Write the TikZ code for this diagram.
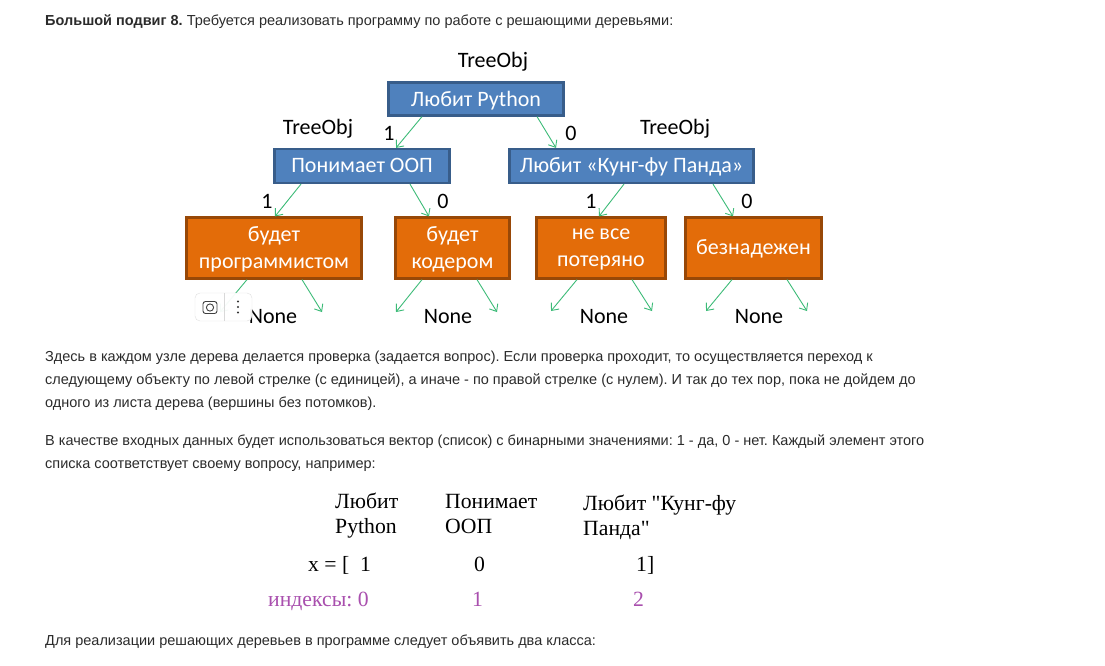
\documentclass[tikz,border=0pt]{standalone}
\usepackage{fontspec}
\setmainfont{Liberation Sans}
\newfontfamily\boxfont{Carlito}
\newfontfamily\timesfont{Liberation Serif}
\usetikzlibrary{arrows.meta}
\frenchspacing
\definecolor{nodeblue}{HTML}{4F81BD}
\definecolor{nodeblueline}{HTML}{385D8A}
\definecolor{leaforange}{HTML}{E36C09}
\definecolor{leafline}{HTML}{984807}
\definecolor{edgegreen}{HTML}{3DBB78}
\definecolor{indexpink}{HTML}{A94FAE}
\definecolor{bodygray}{HTML}{2B2B2B}
\tikzset{
    bodytext/.style={anchor=base west,inner sep=0pt,font=\fontsize{14.5}{17}\selectfont,text=bodygray},
    question/.style={draw=nodeblueline,fill=nodeblue,line width=2.2pt,text=white,inner sep=0pt,align=center,text depth=1pt,font=\boxfont\fontsize{22}{27}\selectfont},
    answer/.style={draw=leafline,fill=leaforange,line width=2.2pt,text=white,inner sep=0pt,align=center,text depth=1pt,font=\boxfont\fontsize{22}{27}\selectfont},
    tag/.style={inner sep=0pt,font=\boxfont\fontsize{22}{26}\selectfont,text=black},
    edge/.style={draw=edgegreen,line width=.9pt,-{Straight Barb[length=6pt,width=10pt]}},
    tabletext/.style={anchor=base west,inner sep=0pt,font=\timesfont\fontsize{21.7}{26}\selectfont,text=black},
    indextext/.style={tabletext,text=indexpink},
}
\begin{document}
\begin{tikzpicture}[x=1pt,y=-1pt]
    \useasboundingbox[fill=white] (0,0) rectangle (1105,665);
    % text above the tree
    \node[bodytext] (title) at (45,25) {\textbf{Большой подвиг 8.} Требуется реализовать программу по работе с решающими деревьями:};
    % tree
    \node[question,minimum width=175pt,minimum height=33pt] (python) at (476,99) {Любит Python};
    \node[question,minimum width=175pt,minimum height=34pt] (oop) at (362,166) {Понимает ООП};
    \node[question,minimum width=244pt,minimum height=34pt] (panda) at (631.5,166) {Любит «Кунг-фу Панда»};
    \node[answer,minimum width=175pt,minimum height=61pt] (coder) at (274,248) {будет\\программистом};
    \node[answer,minimum width=114pt,minimum height=61pt] (junior) at (452.5,248) {будет\\кодером};
    \node[answer,minimum width=129pt,minimum height=61pt] (lost) at (601,248) {не все\\потеряно};
    \node[answer,minimum width=136pt,minimum height=61pt] (hopeless) at (753.5,248) {безнадежен};
    \node[tag] (objpython) at (493,61.5) {TreeObj};
    \node[tag] (objoop) at (318,128.5) {TreeObj};
    \node[tag] (objpanda) at (675,128.5) {TreeObj};
    \node[tag] (yespython) at (389,133) {1};
    \node[tag] (nopython) at (571,133) {0};
    \node[tag] (yesoop) at (267,201) {1};
    \node[tag] (nooop) at (443,201) {0};
    \node[tag] (yespanda) at (591,201) {1};
    \node[tag] (nopanda) at (747,201) {0};
    \node[tag] (nonea) at (273,317) {None};
    \node[tag] (noneb) at (448,317) {None};
    \node[tag] (nonec) at (604,317) {None};
    \node[tag] (noned) at (759,317) {None};
    % arrows
    \draw[edge] ([xshift=-54pt]python.south) -- ([xshift=34pt]oop.north);
    \draw[edge] ([xshift=61pt]python.south) -- ([xshift=-75.5pt]panda.north);
    \draw[edge] ([xshift=-61pt]oop.south) -- ([xshift=1pt]coder.north);
    \draw[edge] ([xshift=48pt]oop.south) -- ([xshift=-23.5pt]junior.north);
    \draw[edge] ([xshift=-7.5pt]panda.south) -- ([xshift=-2pt]lost.north);
    \draw[edge] ([xshift=81.5pt]panda.south) -- ([xshift=-20.5pt]hopeless.north);
    \coordinate (freea) at (220,312);
    \coordinate (freeb) at (322,312);
    \coordinate (freec) at (396,312);
    \coordinate (freed) at (497,312);
    \coordinate (freee) at (551,311);
    \coordinate (freef) at (652,311);
    \coordinate (freeg) at (706,311);
    \coordinate (freeh) at (807,311);
    \draw[edge] ([xshift=-27pt]coder.south) -- (freea);
    \draw[edge] ([xshift=28pt]coder.south) -- (freeb);
    \draw[edge] ([xshift=-30.5pt]junior.south) -- (freec);
    \draw[edge] ([xshift=24.5pt]junior.south) -- (freed);
    \draw[edge] ([xshift=-24pt]lost.south) -- (freee);
    \draw[edge] ([xshift=31pt]lost.south) -- (freef);
    \draw[edge] ([xshift=-21.5pt]hopeless.south) -- (freeg);
    \draw[edge] ([xshift=33.5pt]hopeless.south) -- (freeh);
    % browser button over the picture
    \node[draw=black!12,fill=white,fill opacity=.95,rounded corners=5pt,minimum width=57pt,minimum height=28pt,inner sep=0pt] (button) at (223.5,307) {};
    \draw[black!75,line width=.9pt,rounded corners=2.5pt] (203,301.5) rectangle (217,313.5);
    \draw[black!75,line width=.9pt] (210,307.5) circle (3.6pt);
    \draw[black!15] (224.5,293) -- (224.5,321);
    \fill[black!80] (238,301.5) circle (1.2pt) (238,307) circle (1.2pt) (238,312.5) circle (1.2pt);
    % text below the tree
    \node[bodytext] (textb) at (45,361) {Здесь в каждом узле дерева делается проверка (задается вопрос). Если проверка проходит, то осуществляется переход к};
    \node[bodytext] (textc) at (45,384) {следующему объекту по левой стрелке (с единицей), а иначе - по правой стрелке (с нулем). И так до тех пор, пока не дойдем до};
    \node[bodytext] (textd) at (45,407) {одного из листа дерева (вершины без потомков).};
    \node[bodytext] (texte) at (45,445) {В качестве входных данных будет использоваться вектор (список) с бинарными значениями: 1 - да, 0 - нет. Каждый элемент этого};
    \node[bodytext] (textf) at (45,468) {списка соответствует своему вопросу, например:};
    % table with the vector
    \node[tabletext] (heada) at (335,508) {Любит};
    \node[tabletext] (headb) at (335,533) {Python};
    \node[tabletext] (headc) at (445,508) {Понимает};
    \node[tabletext] (headd) at (445,533) {ООП};
    \node[tabletext] (heade) at (583,510) {Любит "Кунг-фу};
    \node[tabletext] (headf) at (583,535) {Панда"};
    \node[tabletext] (veca) at (308,571) {x = [};
    \node[tabletext] (vecb) at (360,571) {1};
    \node[tabletext] (vecc) at (474,571) {0};
    \node[tabletext] (vecd) at (636,571) {1]};
    \node[indextext] (inda) at (268,606) {индексы: 0};
    \node[indextext] (indb) at (472,606) {1};
    \node[indextext] (indc) at (633,606) {2};
    \node[bodytext] (textg) at (45,645) {Для реализации решающих деревьев в программе следует объявить два класса:};
\end{tikzpicture}
\end{document}
